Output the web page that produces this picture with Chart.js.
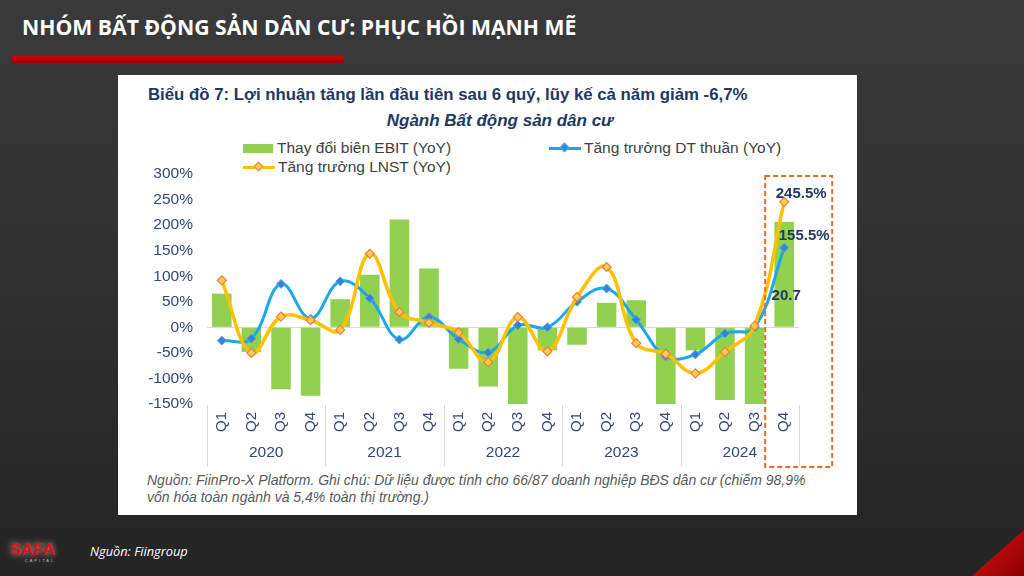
<!DOCTYPE html>
<html>
<head>
<meta charset="utf-8">
<script src="https://cdn.jsdelivr.net/npm/chart.js@4.4.0/dist/chart.umd.min.js"></script>
<style>
    html, body { margin: 0; padding: 0; }
    body {
        width: 1024px; height: 576px; overflow: hidden; position: relative;
        background: linear-gradient(180deg, #3a3a3a 0%, #313131 45%, #242424 100%);
        font-family: 'Liberation Sans', Arial, sans-serif;
    }
    #pageTitle { position: absolute; left: 22px; top: 12px; color: #fff; font: bold 21.2px 'Open Sans', sans-serif; white-space: nowrap; }
    #redBar { position: absolute; left: 12px; top: 56px; width: 332px; height: 7px; background: linear-gradient(180deg, #d40000, #9c0000); }
    #panel { position: absolute; left: 118px; top: 75px; width: 739px; height: 440px; background: #fff; }
    #chartTitle { position: absolute; left: 30px; top: 10px; color: #1f3864; font: bold 16.8px 'Liberation Sans', Arial, sans-serif; line-height: 20px; white-space: nowrap; }
    #chartSub { position: absolute; left: 0; width: 764px; top: 36px; text-align: center; color: #1f3864; font: italic bold 17px 'Liberation Sans', Arial, sans-serif; line-height: 20px; }
    .legend { position: absolute; color: #404040; font: 15.5px 'Liberation Sans', Arial, sans-serif; line-height: 18px; white-space: nowrap; display: flex; align-items: center; }
    .swatch { display: inline-block; width: 30px; height: 9px; background: #92d050; margin-right: 4px; }
    .lineKey { position: relative; display: inline-block; width: 32px; height: 3px; margin-right: 3px; }
    .lineKey i { position: absolute; left: 12px; top: -3px; width: 7px; height: 7px; transform: rotate(45deg); box-sizing: border-box; }
    #note { position: absolute; left: 29px; top: 397px; color: #595959; font: italic 14px 'Liberation Sans', Arial, sans-serif; line-height: 16.5px; white-space: nowrap; }
    #chartBox { position: absolute; left: 140px; top: 165px; width: 700px; height: 310px; }
    #source { position: absolute; left: 90px; top: 542px; color: #fff; font: italic 12.8px 'Open Sans', sans-serif; }
    #logo { position: absolute; left: 10px; top: 540px; width: 60px; height: 30px; color: #e01010; font: bold 17px 'Liberation Sans', Arial, sans-serif; text-shadow: 0 0 6px rgba(255,255,255,0.6); }
    #logo small { display: block; font: 4px sans-serif; color: #bbb; text-align: center; letter-spacing: 2px; margin-top: -2px; }
    #corner { position: absolute; right: 0; bottom: 0; width: 52px; height: 46px; background: linear-gradient(135deg, #e01010, #8a0000); clip-path: polygon(100% 0, 100% 100%, 0 100%); }
</style>
</head>
<body>
<div id="pageTitle">NHÓM BẤT ĐỘNG SẢN DÂN CƯ: PHỤC HỒI MẠNH MẼ</div>
<div id="redBar"></div>
<div id="panel">
    <div id="chartTitle">Biểu đồ 7: Lợi nhuận tăng lần đầu tiên sau 6 quý, lũy kế cả năm giảm -6,7%</div>
    <div id="chartSub">Ngành Bất động sản dân cư</div>
    <div id="note">Nguồn: FiinPro-X Platform. Ghi chú: Dữ liệu được tính cho 66/87 doanh nghiệp BĐS dân cư (chiếm 98,9%<br>vốn hóa toàn ngành và 5,4% toàn thị trường.)</div>
</div>
<div class="legend" style="left:243px; top:139px;"><span class="swatch"></span>Thay đổi biên EBIT (YoY)</div>
<div class="legend" style="left:549px; top:139px;"><span class="lineKey" style="background:#1aa7ec;"><i style="background:#2e86d4;border:1px solid #5aa8e8;"></i></span>Tăng trưởng DT thuần (YoY)</div>
<div class="legend" style="left:243px; top:158px;"><span class="lineKey" style="background:#ffc000;"><i style="background:#ffcc55;border:1px solid #f07c3a;"></i></span>Tăng trưởng LNST (YoY)</div>
<div id="chartBox"><canvas id="chart"></canvas></div>
<div id="logo">SAFA<small>CAPITAL</small></div>
<div id="source">Nguồn: Fiingroup</div>
<div id="corner"></div>

<script>
// Quarterly data, Q1 2020 .. Q4 2024 (values in %)
const years = ['2020', '2021', '2022', '2023', '2024'];
const quarters = ['Q1', 'Q2', 'Q3', 'Q4'];
const categories = years.flatMap(() => quarters);

const ebitMarginChange = [66, -48, -121, -134, 55, 103, 211, 115, -81, -116, -155, -45, -34, 48, 53, -155, -45, -142, -155, 206];
const revenueGrowth = [-26, -22, 85, 17, 90, 57, -24, 20, -23, -49, 4, 0, 50, 76, 15, -57, -53, -12, 0, 155.5];
const profitGrowth = [92, -50, 21, 14, -5, 144, 30, 9, -10, -68, 20, -47, 59, 118, -31, -52, -90, -48, 3, 245.5];

const yMin = -150;
const yMax = 300;
const yStep = 50;

// Labels shown on the last quarter
const lastLabels = [
    { dataset: 2, text: '245.5%', dx: 17, dy: -8 },
    { dataset: 1, text: '155.5%', dx: 20, dy: -12 },
];
const ebitLastLabel = '20.7';

const navy = '#1f3864';
const axisText = '#34477a';
const fontFamily = "'Liberation Sans', Arial, sans-serif";

// Year groups + separators under the quarter labels, and the highlight box
const groupAxis = {
    id: 'groupAxis',
    afterDraw(chart) {
        const { ctx, chartArea, scales: { x } } = chart;
        const step = x.getPixelForValue(1) - x.getPixelForValue(0);
        ctx.save();
        ctx.strokeStyle = '#d9d9d9';
        ctx.lineWidth = 1;
        for (let g = 0; g <= years.length; g++) {
            const px = Math.round(x.getPixelForValue(g * quarters.length) - step / 2) + 0.5;
            ctx.beginPath();
            ctx.moveTo(px, chartArea.bottom + 1);
            ctx.lineTo(px, chartArea.bottom + 62);
            ctx.stroke();
        }
        ctx.fillStyle = axisText;
        ctx.font = '15.5px ' + fontFamily;
        ctx.textAlign = 'center';
        ctx.textBaseline = 'middle';
        years.forEach((yr, g) => {
            const a = x.getPixelForValue(g * quarters.length);
            const b = x.getPixelForValue(g * quarters.length + quarters.length - 1);
            ctx.fillText(yr, (a + b) / 2, chartArea.bottom + 49);
        });

        // dashed highlight around the last quarter
        const last = x.getPixelForValue(categories.length - 1);
        ctx.strokeStyle = '#e46c2a';
        ctx.lineWidth = 2;
        ctx.setLineDash([5, 3]);
        ctx.strokeRect(last - 19, chartArea.top + 2, 67, chartArea.bottom - chartArea.top + 61);
        ctx.restore();
    },
    afterDatasetsDraw(chart) {
        const { ctx } = chart;
        ctx.save();
        ctx.fillStyle = navy;
        ctx.font = 'bold 15px ' + fontFamily;
        ctx.textAlign = 'center';
        ctx.textBaseline = 'middle';
        lastLabels.forEach(l => {
            const pts = chart.getDatasetMeta(l.dataset).data;
            const p = pts[pts.length - 1];
            ctx.fillText(l.text, p.x + l.dx, p.y + l.dy);
        });
        const bars = chart.getDatasetMeta(0).data;
        const bar = bars[bars.length - 1];
        ctx.fillText(ebitLastLabel, bar.x + 2, (bar.y + bar.base) / 2 + 21);
        ctx.restore();
    }
};

new Chart(document.getElementById('chart'), {
    type: 'bar',
    data: {
        labels: categories,
        datasets: [
            {
                label: 'Thay đổi biên EBIT (YoY)',
                data: ebitMarginChange,
                backgroundColor: '#92d050',
                barPercentage: 0.66,
                categoryPercentage: 1,
                order: 3,
            },
            {
                type: 'line',
                label: 'Tăng trưởng DT thuần (YoY)',
                data: revenueGrowth,
                borderColor: '#1aa7ec',
                borderWidth: 3,
                tension: 0.4,
                pointStyle: 'rectRot',
                pointRadius: 4.5,
                pointBackgroundColor: '#2e86d4',
                pointBorderColor: '#5aa8e8',
                pointBorderWidth: 1,
                order: 2,
            },
            {
                type: 'line',
                label: 'Tăng trưởng LNST (YoY)',
                data: profitGrowth,
                borderColor: '#ffc000',
                borderWidth: 3.5,
                tension: 0.4,
                pointStyle: 'rectRot',
                pointRadius: 4.5,
                pointBackgroundColor: '#ffcc55',
                pointBorderColor: '#f07c3a',
                pointBorderWidth: 1.2,
                order: 1,
            }
        ]
    },
    options: {
        responsive: true,
        maintainAspectRatio: false,
        animation: false,
        layout: { padding: { top: 9, right: 41, left: 0, bottom: 0 } },
        plugins: {
            legend: { display: false },
            tooltip: { enabled: false }
        },
        scales: {
            x: {
                grid: { display: false, drawTicks: false },
                border: { display: false },
                ticks: {
                    color: axisText,
                    font: { family: fontFamily, size: 15 },
                    minRotation: 90,
                    maxRotation: 90,
                    autoSkip: false,
                    padding: 8,
                },
                afterFit(scale) {
                    scale.height = 71;
                    scale.paddingLeft = 0;
                    scale.paddingRight = 0;
                }
            },
            y: {
                min: yMin,
                max: yMax,
                grid: {
                    drawTicks: false,
                    color: ctx => ctx.tick && ctx.tick.value === 0 ? '#d9d9d9' : 'transparent',
                },
                border: { display: false },
                ticks: {
                    stepSize: yStep,
                    padding: 14,
                    color: axisText,
                    font: { family: fontFamily, size: 15.5 },
                    callback: value => value + '%'
                },
                afterFit(scale) {
                    scale.width = 67;
                    scale.paddingTop = 0;
                    scale.paddingBottom = 0;
                }
            }
        }
    },
    plugins: [groupAxis]
});
</script>
</body>
</html>
